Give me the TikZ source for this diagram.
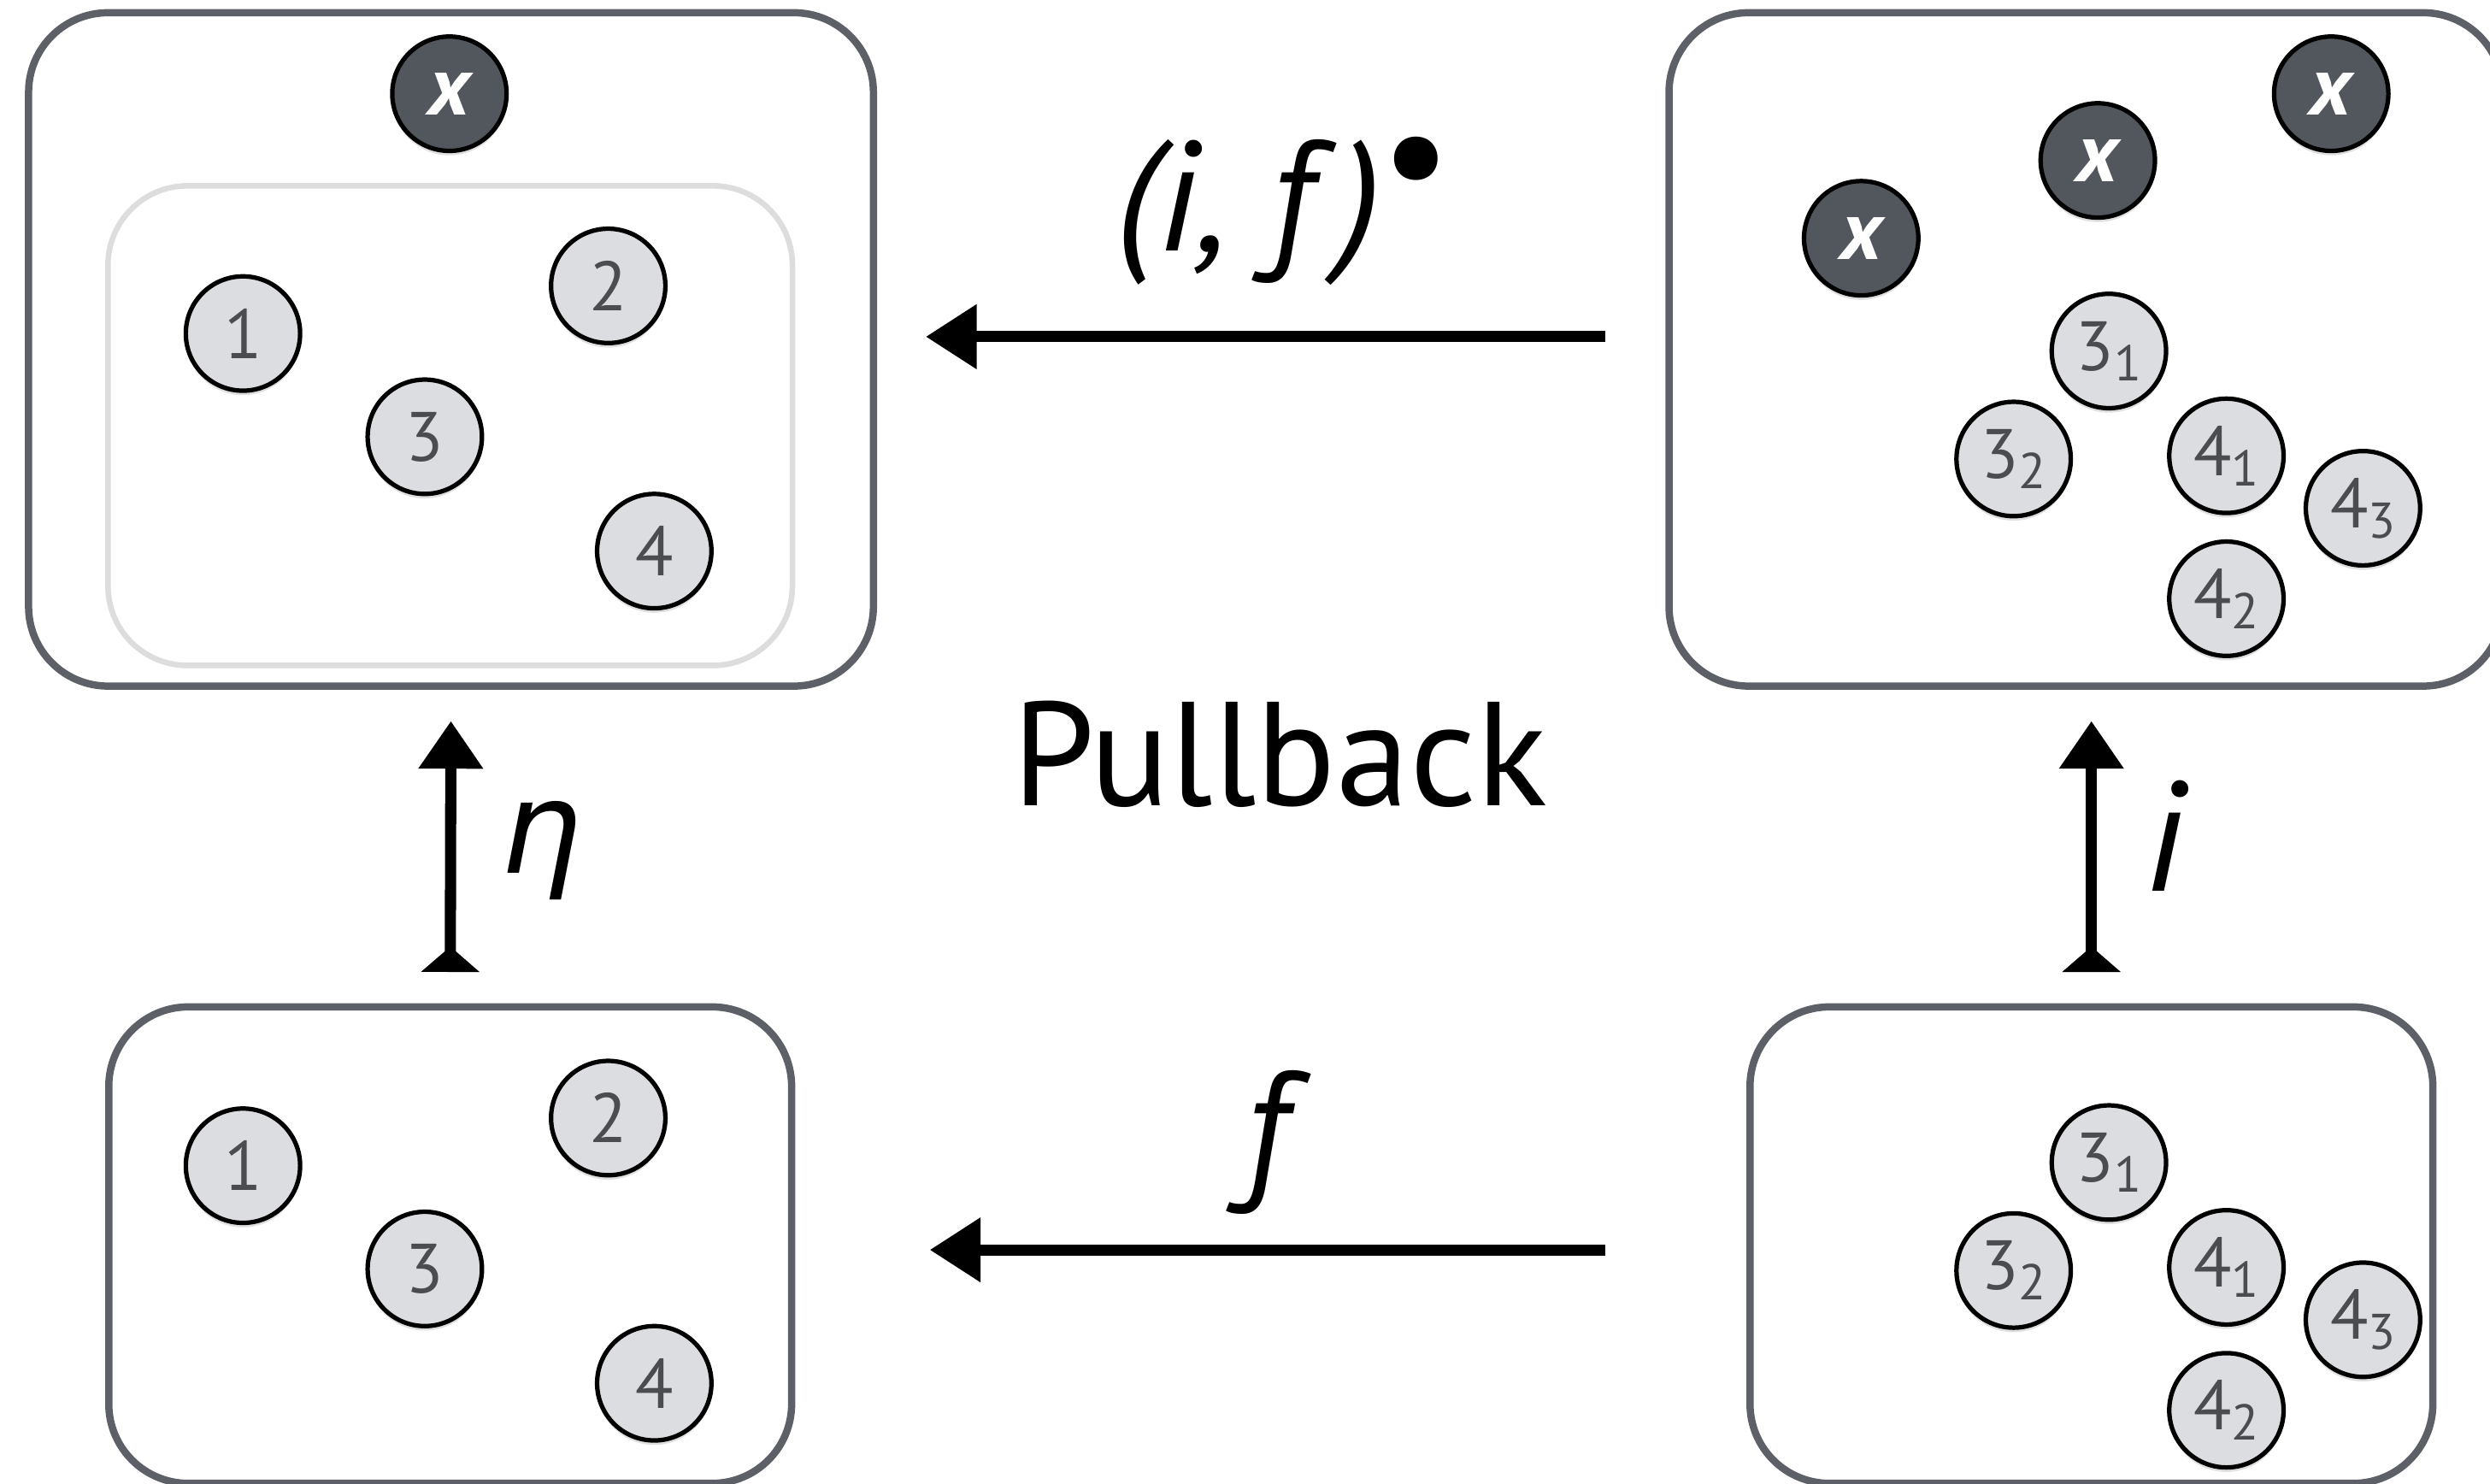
\documentclass[tikz,border=0pt]{standalone}
\usepackage{fontspec}
\setmainfont{PT Sans}
\newfontfamily\greekfont{DejaVu Sans}
\usetikzlibrary{arrows.meta,shadows,positioning}

\definecolor{framegray}{HTML}{5D6167}
\definecolor{subsetgray}{HTML}{DDDDDD}
\definecolor{elemfill}{HTML}{DCDDE0}
\definecolor{junkfill}{HTML}{52575D}
\definecolor{digitgray}{HTML}{4A4C50}

\tikzset{
  setbox/.style={draw=framegray, line width=1.3pt, rounded corners=0.5cm,
    fill=white, inner sep=0pt, outer sep=0pt},
  subsetbox/.style={setbox, draw=subsetgray, line width=1pt, fill=none},
  elem/.style={circle, draw=black, line width=0.8pt, fill=elemfill,
    minimum size=0.72cm, inner sep=0pt, text=digitgray,
    font=\fontsize{12.5}{12.5}\selectfont,
    drop shadow={shadow xshift=0pt, shadow yshift=-0.8pt, opacity=0.25}},
  junk/.style={elem, fill=junkfill, text=white,
    font=\fontsize{15}{15}\selectfont\bfseries\itshape},
  morph/.style={line width=2pt, -{Triangle[length=3.2mm,width=3.9mm]}},
  lift/.style={line width=2pt,
    {Triangle[reversed,length=1.6mm,width=3.6mm]}-{Triangle[length=3mm,width=3.9mm]}},
  lbl/.style={font=\fontsize{28}{28}\selectfont, inner sep=0pt},
}

\begin{document}
\begin{tikzpicture}
  \useasboundingbox (0,0) rectangle (15.68,-9.34);
  \clip (0,0) rectangle (15.68,-9.34);

  % the four sets
  \node[setbox, minimum width=5.32cm, minimum height=4.24cm] (TL) at (2.84,-2.20) {};
  \node[subsetbox, minimum width=4.31cm, minimum height=3.02cm] (TLin) at (2.835,-2.68) {};
  \node[setbox, minimum width=5.25cm, minimum height=4.24cm] (TR) at (13.135,-2.20) {};
  \node[setbox, minimum width=4.30cm, minimum height=3.0cm] (BL) at (2.835,-7.84) {};
  \node[setbox, minimum width=4.30cm, minimum height=3.0cm] (BR) at (13.17,-7.84) {};

  % elements on the left
  \node[junk] (TLx) at (2.83,-0.59) {x};
  \foreach \n/\x/\y in {1/1.53/-2.10, 2/3.83/-1.80, 3/2.675/-2.75, 4/4.12/-3.47}{
    \node[elem] (TL\n) at (\x,\y) {\n};
    \node[elem] (BL\n) at (\x,\y-5.24) {\n};
  }

  % elements on the right
  \foreach \k/\x/\y in {a/11.72/-1.50, b/13.21/-1.01, c/14.68/-0.59}
    \node[junk] (TRx\k) at (\x,\y) {x};
  \foreach \n/\s/\x/\y in {3/1/13.28/-2.21, 3/2/12.68/-2.89, 4/1/14.02/-2.87,
                           4/3/14.88/-3.20, 4/2/14.02/-3.77}{
    \node[elem] (TR\n\s) at (\x,\y) {\n\raisebox{-0.15em}{\fontsize{9}{9}\selectfont\s}};
    \node[elem] (BR\n\s) at (\x,\y-5.11) {\n\raisebox{-0.15em}{\fontsize{9}{9}\selectfont\s}};
  }

  % maps
  \draw[morph, shorten <=0.40cm, shorten >=0.33cm]
    ([yshift=0.08cm]TR.west) -- ([yshift=0.08cm]TL.east);
  \draw[morph, shorten <=0.91cm, shorten >=0.87cm]
    ([yshift=-0.03cm]BR.west) -- ([yshift=-0.03cm]BL.east);
  \draw[lift, shorten <=0.22cm, shorten >=0.22cm] (BL.north) -- (TL.south);
  \draw[lift, shorten <=0.22cm, shorten >=0.22cm] (BR.north) -- (BR.north |- TR.south);

  % labels
  \node[lbl, anchor=base west] (pbl) at (7.02,-1.58)
    {\itshape(i, f\,)\upshape\raisebox{0.28em}{\textbullet}};
  \node[lbl, anchor=base] (flbl) at (7.97,-7.44) {\itshape f};
  \node[lbl, anchor=base] (ilbl) at (13.63,-5.61) {\itshape i};
  \node[inner sep=0pt, anchor=base, font=\fontsize{23}{23}\selectfont\greekfont\itshape]
    (etalbl) at (3.41,-5.50) {η};
  \node[lbl, font=\fontsize{26.5}{26.5}\selectfont, anchor=base] (title) at (8.06,-5.075) {Pullback};
\end{tikzpicture}
\end{document}
